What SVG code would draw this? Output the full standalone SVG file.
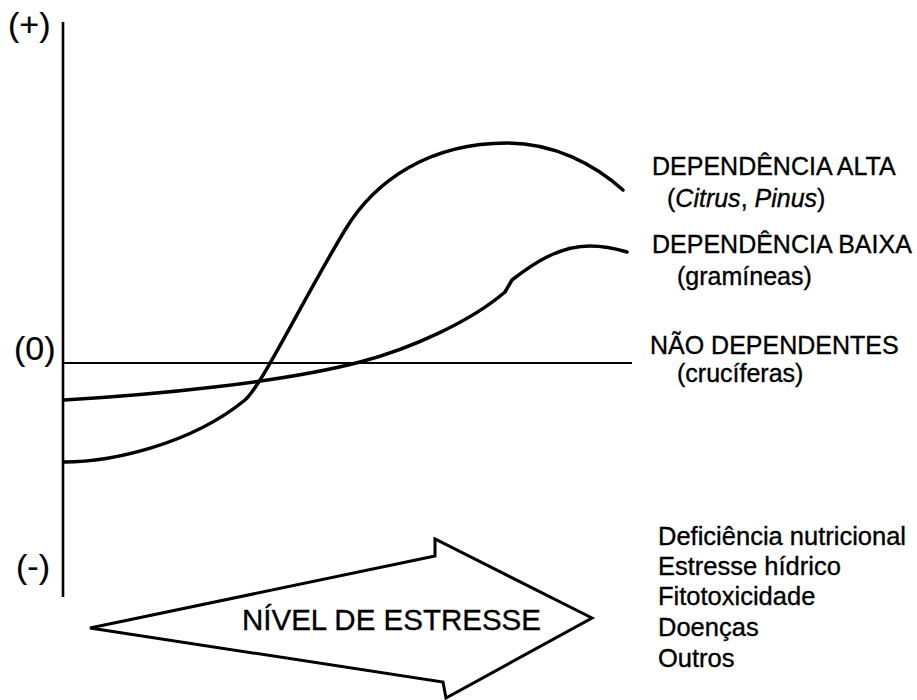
<svg xmlns="http://www.w3.org/2000/svg" width="917" height="700" viewBox="0 0 917 700">
<style>
  text { font-family: "Liberation Sans", Arial, sans-serif; fill: #000; stroke: #000; stroke-width: 0.35; }
  .lbl { font-size: 25px; }
  .axl { font-size: 34px; stroke-width: 0.2; }
  .lst { font-size: 25.5px; }
  .curve { fill: none; stroke: #000; stroke-width: 3.5; stroke-linecap: round; stroke-linejoin: round; }
  .thin { fill: none; stroke: #000; stroke-width: 2; }
  .axis { fill: none; stroke: #000; stroke-width: 2.6; }
</style>
<rect width="917" height="700" fill="#fff"/>
<g id="axis">
  <line class="axis" x1="63" y1="22" x2="63" y2="597"/>
  <text class="axl" x="8" y="36">(+)</text>
  <text class="axl" x="14" y="360">(0)</text>
  <text class="axl" x="16" y="578">(-)</text>
</g>
<g id="connectors">
  <line id="zero-line" class="thin" x1="64" y1="363" x2="632" y2="363"/>
  <path id="curve-alta" class="curve" d="M64 462 C110 462 190 445 245 400 C262 385 300 305 345 230 C375 180 430 143 507 143 C555 143 595 165 623 190"/>
  <path id="curve-baixa" class="curve" d="M64 400 C150 395 280 383 360 362 C410 349 470 322 505 292 L512 280 C535 262 560 246 590 246 C605 246 617 249 627 252"/>
</g>
<g id="label-alta">
  <text class="lbl" x="652" y="175">DEPENDÊNCIA ALTA</text>
  <text class="lbl" x="667" y="207">(<tspan font-style="italic">Citrus</tspan>, <tspan font-style="italic">Pinus</tspan>)</text>
</g>
<g id="label-baixa">
  <text class="lbl" x="652" y="253">DEPENDÊNCIA BAIXA</text>
  <text class="lbl" x="677" y="285">(gramíneas)</text>
</g>
<g id="label-nao">
  <text class="lbl" x="650" y="354">NÃO DEPENDENTES</text>
  <text class="lbl" x="677" y="382">(crucíferas)</text>
</g>
<g id="stress-arrow">
  <polygon points="90,628 435,556 435,539 592,618 446,698 443,682" fill="#fff" stroke="#000" stroke-width="3" stroke-linejoin="miter"/>
  <text x="242" y="630" font-size="29.5" stroke-width="0.2">NÍVEL DE ESTRESSE</text>
</g>
<g id="stress-list">
  <text class="lst" x="658" y="545">Deficiência nutricional</text>
  <text class="lst" x="658" y="575">Estresse hídrico</text>
  <text class="lst" x="658" y="605">Fitotoxicidade</text>
  <text class="lst" x="658" y="636">Doenças</text>
  <text class="lst" x="658" y="667">Outros</text>
</g>
</svg>
